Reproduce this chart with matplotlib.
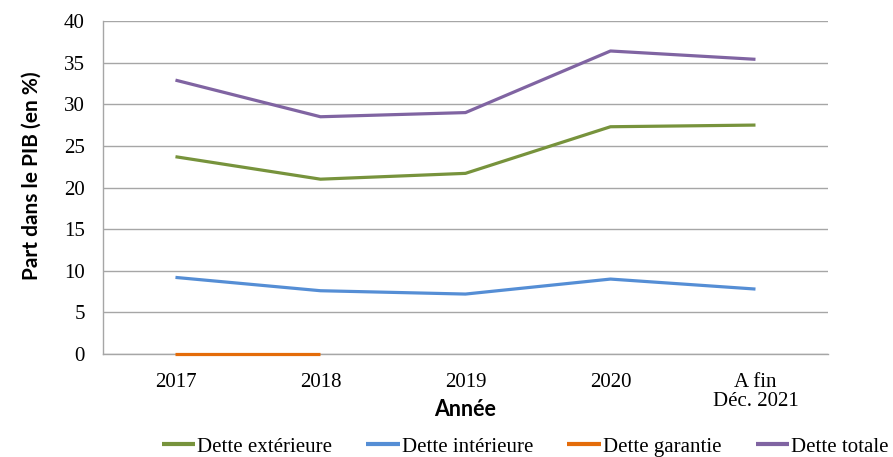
import matplotlib
matplotlib.use("Agg")
import matplotlib.pyplot as plt
import numpy as np

categories = ["2017", "2018", "2019", "2020", "A fin\nDéc. 2021"]
dette_exterieure = [23.7, 21.0, 21.7, 27.3, 27.5]
dette_interieure = [9.2, 7.6, 7.2, 9.0, 7.8]
dette_garantie = [0.0, 0.0, np.nan, np.nan, np.nan]
dette_totale = [32.9, 28.5, 29.0, 36.4, 35.4]
y_ticks = [0, 5, 10, 15, 20, 25, 30, 35, 40]

series = [
    ("Dette extérieure", dette_exterieure, "#77933C"),
    ("Dette intérieure", dette_interieure, "#558ED5"),
    ("Dette garantie", dette_garantie, "#E46C0A"),
    ("Dette totale", dette_totale, "#8064A2"),
]

fig = plt.figure(figsize=(8.93, 4.57), dpi=100)
ax = fig.add_axes([0.1153, 0.2254, 0.8119, 0.7286])

x = np.arange(len(categories))
for name, vals, col in series:
    ax.plot(x, vals, color=col, lw=2.3, label=name, solid_capstyle="butt",
            zorder=3, clip_on=False)

ax.set_xlim(-0.5, len(categories) - 0.5)
ax.set_ylim(0, 40)
ax.set_yticks(y_ticks)
ax.set_xticks(x)
ax.set_xticklabels(categories, family="Liberation Serif", fontsize=15)
for lbl in ax.get_xticklabels():
    lbl.set_linespacing(1.0)
ax.set_yticklabels([str(v) for v in y_ticks], family="Liberation Serif", fontsize=15)
ax.tick_params(axis="both", length=0)
ax.tick_params(axis="x", pad=14)
ax.tick_params(axis="y", pad=13)
ax.grid(axis="y", color="#A6A6A6", lw=1)
ax.set_axisbelow(True)
for s in ["top", "right"]:
    ax.spines[s].set_visible(False)
for s in ["left", "bottom"]:
    ax.spines[s].set_color("#A6A6A6")
    ax.spines[s].set_linewidth(1)

ax.set_xlabel("Année", family="Lato", fontweight="bold", fontsize=15.5)
ax.xaxis.label.set_va("center")
ax.xaxis.set_label_coords(0.5, -0.168)
ax.set_ylabel("Part dans le PIB (en %)", family="Lato", fontweight="bold", fontsize=15)
ax.yaxis.label.set_va("center")
ax.yaxis.set_label_coords(-0.098, 0.535)

leg = fig.legend(loc="center", bbox_to_anchor=(0.588, 0.022), ncol=4, frameon=False,
                 prop={"family": "Liberation Serif", "size": 15},
                 handlelength=1.6, handletextpad=0.1, columnspacing=1.65)
for h in leg.get_lines():
    h.set_linewidth(3)

fig.savefig("out.png", dpi=100)
